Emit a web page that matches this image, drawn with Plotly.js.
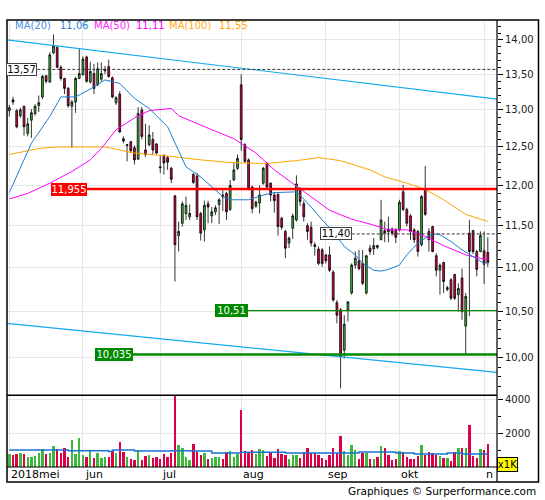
<!DOCTYPE html>
<html>
<head>
<meta charset="utf-8">
<script src="https://cdn.plot.ly/plotly-3.0.1.min.js"></script>
<style>
  html, body { margin: 0; padding: 0; background: #fff; }
  #chart { width: 545px; height: 500px; }
</style>
</head>
<body>
<div id="chart"></div>
<script>
// daily quotes, one entry per trading day (4 mei 2018 .. 2 nov 2018)
var open = [12.99, 13.14, 12.99, 12.92, 13.05, 12.68, 12.86, 12.95, 13.06, 13.18,
    13.48, 13.39, 13.81, 13.89, 13.60, 13.44, 13.30, 13.05, 13.11, 13.44,
    13.49, 13.75, 13.39, 13.51, 13.35, 13.43, 13.55, 13.61, 13.45, 13.10,
    13.22, 12.61, 12.52, 12.57, 12.49, 12.34, 13.00, 12.46, 12.53, 12.60,
    12.54, 12.24, 12.39, 12.36, 12.22, 11.87, 11.38, 11.53, 11.65, 11.61,
    12.14, 12.12, 11.65, 11.45, 11.77, 11.62, 11.67, 11.76, 11.88, 11.90,
    11.70, 12.07, 12.22, 13.35, 12.53, 12.33, 11.98, 11.74, 11.78, 12.03,
    12.29, 12.03, 11.88, 11.89, 11.59, 11.43, 11.29, 11.47, 11.57, 11.95,
    11.77, 11.50, 11.48, 11.27, 11.22, 11.21, 11.15, 11.15, 10.95, 10.60,
    10.52, 10.08, 10.52, 10.71, 11.03, 11.08, 11.05, 10.71, 11.23, 11.22,
    11.26, 11.33, 11.44, 11.46, 11.46, 11.45, 11.45, 11.92, 11.70, 11.62,
    11.45, 11.43, 11.27, 11.96, 11.43, 11.49, 11.14, 10.97, 11.06, 10.75,
    10.86, 10.92, 10.69, 10.88, 10.34, 11.41, 11.44, 11.19, 11.19, 11.20,
    11.18];
var high = [13.07, 13.18, 13.01, 13.03, 13.06, 12.89, 13.01, 13.08, 13.20, 13.49,
    13.49, 13.82, 14.08, 13.91, 13.63, 13.45, 13.32, 13.14, 13.46, 13.88,
    13.76, 13.77, 13.68, 13.65, 13.67, 13.67, 13.62, 13.71, 13.47, 13.19,
    13.26, 12.64, 12.54, 12.58, 12.52, 13.04, 13.04, 12.81, 12.79, 12.70,
    12.55, 12.38, 12.40, 12.38, 12.24, 11.88, 11.55, 11.80, 11.86, 11.76,
    12.16, 12.16, 11.67, 11.81, 11.81, 11.73, 11.75, 11.84, 11.94, 11.92,
    12.07, 12.29, 12.40, 13.50, 12.55, 12.35, 12.00, 11.81, 12.00, 12.24,
    12.29, 12.04, 11.92, 11.90, 11.61, 11.45, 11.37, 11.65, 12.13, 11.98,
    11.81, 11.53, 11.55, 11.30, 11.25, 11.23, 11.16, 11.25, 10.97, 10.63,
    10.54, 10.46, 10.61, 11.05, 11.19, 11.21, 11.21, 11.15, 11.27, 11.35,
    11.27, 11.82, 11.55, 11.61, 11.48, 11.47, 11.82, 12.01, 11.72, 11.64,
    11.47, 11.45, 11.88, 12.25, 11.47, 11.50, 11.17, 11.05, 11.07, 10.79,
    10.88, 10.93, 10.82, 10.99, 10.71, 11.57, 11.45, 11.21, 11.43, 11.43,
    11.36];
var low = [12.91, 13.07, 12.75, 12.89, 12.65, 12.64, 12.62, 12.92, 12.97, 13.15,
    13.37, 13.38, 13.79, 13.59, 13.41, 13.22, 13.03, 12.49, 12.96, 13.43,
    13.49, 13.38, 13.37, 13.22, 13.33, 13.40, 13.50, 13.45, 13.16, 13.07,
    12.69, 12.55, 12.31, 12.42, 12.27, 12.33, 12.60, 12.37, 12.51, 12.40,
    12.40, 12.16, 12.14, 12.20, 12.03, 10.84, 11.19, 11.49, 11.57, 11.57,
    12.02, 11.57, 11.32, 11.31, 11.53, 11.53, 11.63, 11.52, 11.68, 11.57,
    11.68, 12.06, 12.20, 12.45, 12.29, 11.94, 11.65, 11.72, 11.65, 12.01,
    11.96, 11.80, 11.66, 11.38, 11.45, 11.11, 11.23, 11.34, 11.55, 11.74,
    11.55, 11.33, 11.25, 11.14, 11.03, 11.01, 11.05, 10.95, 10.61, 10.37,
    9.68, 9.99, 10.39, 10.69, 10.99, 10.97, 10.80, 10.69, 11.15, 11.15,
    11.22, 11.33, 11.30, 11.30, 11.38, 11.29, 11.43, 11.68, 11.49, 11.33,
    11.29, 11.13, 11.25, 11.62, 11.19, 11.18, 10.90, 10.69, 10.71, 10.73,
    10.63, 10.63, 10.50, 10.41, 10.03, 10.45, 11.16, 10.90, 11.18, 10.81,
    11.01];
var close = [13.03, 13.11, 12.77, 13.00, 12.77, 12.81, 12.96, 13.05, 13.10, 13.47,
    13.40, 13.78, 13.91, 13.60, 13.44, 13.30, 13.06, 13.11, 13.44, 13.51,
    13.72, 13.40, 13.54, 13.30, 13.58, 13.51, 13.57, 13.47, 13.18, 13.17,
    12.70, 12.58, 12.53, 12.45, 12.33, 12.95, 12.64, 12.40, 12.66, 12.46,
    12.42, 12.23, 12.29, 12.30, 12.08, 11.27, 11.43, 11.77, 11.75, 11.65,
    12.04, 11.61, 11.41, 11.75, 11.73, 11.67, 11.72, 11.82, 11.86, 11.67,
    12.00, 12.20, 12.35, 12.60, 12.31, 11.96, 11.71, 11.79, 11.88, 12.22,
    11.98, 11.88, 11.81, 11.49, 11.48, 11.23, 11.35, 11.62, 12.02, 11.80,
    11.61, 11.43, 11.29, 11.25, 11.05, 11.05, 11.08, 10.97, 10.63, 10.46,
    10.01, 10.36, 10.61, 11.03, 11.11, 10.99, 10.82, 11.14, 11.19, 11.26,
    11.24, 11.57, 11.41, 11.43, 11.41, 11.36, 11.79, 11.70, 11.53, 11.43,
    11.33, 11.19, 11.86, 11.64, 11.33, 11.19, 10.97, 11.03, 10.84, 10.77,
    10.65, 10.65, 10.76, 10.50, 10.67, 11.19, 11.19, 10.98, 11.38, 11.04,
    11.06];
// volume, in thousands of shares
var volume = [784, 725, 784, 843, 784, 608, 608, 666, 843, 1078,
    784, 843, 1254, 1078, 843, 1137, 608, 1607, 784, 1725,
    725, 608, 960, 549, 843, 549, 608, 608, 960, 843,
    1490, 902, 608, 490, 431, 1019, 431, 666, 725, 549,
    608, 490, 784, 608, 843, 4400, 1313, 1137, 608, 431,
    1372, 902, 725, 843, 490, 549, 608, 608, 490, 902,
    960, 608, 784, 3371, 960, 902, 1019, 784, 1078, 1019,
    666, 902, 549, 1078, 784, 725, 490, 725, 725, 549,
    902, 1137, 843, 843, 725, 549, 431, 725, 1137, 843,
    1842, 960, 725, 1313, 1019, 490, 843, 843, 490, 490,
    608, 1254, 1137, 725, 431, 490, 960, 902, 608, 490,
    490, 666, 1313, 725, 902, 843, 725, 666, 549, 549,
    372, 902, 1137, 1137, 1137, 2489, 666, 549, 1078, 1019,
    1372];

var monthIdx = [0, 20, 41, 63, 86, 106, 129];
var monthLabels = ['2018mei', 'jun', 'jul', 'aug', 'sep', 'okt', 'n'];

var ma20Idx = [0, 6, 11, 14, 18, 23, 26, 30, 34, 38, 43, 46, 48, 52, 54, 58, 60, 65, 69, 72, 78,
    79, 82, 85, 88, 91, 94, 96, 99, 101, 103, 106, 108, 111, 114, 116, 117, 120, 123, 126, 129, 130];
var ma20 = [11.91, 12.55, 12.91, 13.18, 13.18, 13.32, 13.42, 13.37, 13.16, 13.02, 12.77, 12.46, 12.24,
    12.11, 12.03, 11.86, 11.82, 11.82, 11.88, 11.91, 11.92, 11.88, 11.73, 11.57, 11.43, 11.25, 11.15,
    11.05, 10.97, 10.96, 10.98, 11.03, 11.15, 11.29, 11.38, 11.40, 11.39, 11.31, 11.21, 11.13, 11.05, 11.06];
var ma50Idx = [0, 5, 11, 17, 22, 25, 29, 34, 38, 44, 46, 51, 56, 61, 67, 72, 77, 82, 87, 93, 98,
    103, 108, 113, 118, 124, 129, 130];
var ma50 = [11.83, 11.90, 12.03, 12.18, 12.33, 12.48, 12.73, 12.89, 12.99, 13.02, 12.92, 12.81, 12.71,
    12.61, 12.42, 12.20, 12.03, 11.86, 11.69, 11.58, 11.52, 11.45, 11.45, 11.37, 11.26, 11.15, 11.10, 11.11];
var ma100Idx = [0, 8, 13, 26, 34, 43, 52, 59, 69, 78, 84, 90, 98, 102, 108, 113, 118, 124, 128, 130];
var ma100 = [12.40, 12.48, 12.50, 12.50, 12.42, 12.38, 12.33, 12.30, 12.28, 12.32, 12.36, 12.32, 12.20,
    12.11, 12.03, 11.95, 11.82, 11.64, 11.58, 11.55];
var volAvgIdx = [0, 16, 27, 28, 34, 44, 49, 55, 63, 75, 95, 105, 110, 119, 123, 130];
var volAvg = [1000, 960, 921, 1000, 941, 960, 941, 823, 870, 823, 882, 823, 764, 823, 764, 764];

var legendText = ['MA(20)', '11,06', 'MA(50)', '11,11', 'MA(100)', '11,55'];

// trend channel, value at left and right edge of the chart
var upperTrend = [14.00, 13.15];
var lowerTrend = [10.37, 9.845];

var priceTicks = [10, 10.5, 11, 11.5, 12, 12.5, 13, 13.5, 14];
var priceTickText = ['10,00', '10,50', '11,00', '11,50', '12,00', '12,50', '13,00', '13,50', '14,00'];
var volTicks = [2000, 4000];
var volTickText = ['2000', '4000'];

var UP = '#3cb83c', DOWN = '#dc0046';

// pixel helpers for the plot area (l=7, t=20, w=490, h=447)
function px(x) { return (x - 7) / 490; }
function py(y) { return (467 - y) / 447; }

var idx = [];
var volColors = [];
for (var i = 0; i < close.length; i++) {
    idx.push(i);
    volColors.push(close[i] >= open[i] ? UP : DOWN);
}

var priceMinor = [];
for (var m = 97; m <= 142; m++) {
    if (m % 5 !== 0) priceMinor.push(m / 10);
}

var traces = [
    {
        type: 'candlestick', x: idx, open: open, high: high, low: low, close: close,
        xaxis: 'x2', yaxis: 'y',
        increasing: {line: {color: '#000', width: 0.8}, fillcolor: UP},
        decreasing: {line: {color: '#000', width: 0.8}, fillcolor: DOWN},
        whiskerwidth: 0, hoverinfo: 'skip', showlegend: false
    },
    {type: 'scatter', mode: 'lines', x: ma100Idx, y: ma100, xaxis: 'x2', yaxis: 'y',
        line: {color: '#ffa500', width: 1}, hoverinfo: 'skip'},
    {type: 'scatter', mode: 'lines', x: ma50Idx, y: ma50, xaxis: 'x2', yaxis: 'y',
        line: {color: '#ff00ff', width: 1}, hoverinfo: 'skip'},
    {type: 'scatter', mode: 'lines', x: ma20Idx, y: ma20, xaxis: 'x2', yaxis: 'y',
        line: {color: '#1a7fd4', width: 1}, hoverinfo: 'skip'},
    {type: 'bar', x: idx, y: volume, width: 0.65, xaxis: 'x', yaxis: 'y2',
        marker: {color: volColors, line: {width: 0}}, hoverinfo: 'skip'},
    {type: 'scatter', mode: 'lines', x: volAvgIdx, y: volAvg, xaxis: 'x', yaxis: 'y2',
        line: {color: '#1a73d0', width: 1.5, shape: 'hv'}, hoverinfo: 'skip'}
];

function level(val, x0, color, width, dash) {
    return {type: 'line', xref: 'paper', yref: 'y', x0: px(x0), x1: 1, y0: val, y1: val,
        line: {color: color, width: width, dash: dash || 'solid'}, layer: 'above'};
}

var shapes = [
    {type: 'line', xref: 'paper', yref: 'y', x0: 0, x1: 1, y0: upperTrend[0], y1: upperTrend[1],
        line: {color: '#14aaee', width: 1.2}},
    {type: 'line', xref: 'paper', yref: 'y', x0: 0, x1: 1, y0: lowerTrend[0], y1: lowerTrend[1],
        line: {color: '#14aaee', width: 1.2}},
    level(13.57, 37.3, '#333', 1, '3px,2px'),
    level(11.40, 351.7, '#333', 1, '3px,2px'),
    level(11.955, 86.7, '#ff0000', 2.5),
    level(10.51, 248, '#008a00', 1.2),
    level(10.035, 133, '#008a00', 2.5),
    // frame
    {type: 'rect', xref: 'paper', yref: 'paper', x0: 0, x1: px(538.5), y0: py(482), y1: 1,
        line: {color: '#000', width: 1.5}},
    {type: 'line', xref: 'paper', yref: 'paper', x0: 1, x1: 1, y0: py(482), y1: 1,
        line: {color: '#000', width: 1.2}},
    {type: 'line', xref: 'paper', yref: 'paper', x0: 0, x1: 1, y0: py(395.3), y1: py(395.3),
        line: {color: '#000', width: 1.5}},
    {type: 'line', xref: 'paper', yref: 'paper', x0: 0, x1: 1, y0: 0, y1: 0,
        line: {color: '#000', width: 1.2}}
];

var annotations = [];
var legendX = [13, 58, 92, 134, 167, 217];
var legendColors = ['#4b8fe0', '#2a7fd8', '#ff22ff', '#ff00ff', '#ffaa22', '#ffa500'];
for (var k = 0; k < legendText.length; k++) {
    annotations.push({xref: 'paper', yref: 'paper', x: px(legendX[k]), y: py(26),
        xanchor: 'left', yanchor: 'middle', showarrow: false, text: legendText[k],
        font: {size: 10, color: legendColors[k]}});
}

function tag(text, val, xRight, w, bg, border, color) {
    return {xref: 'paper', yref: 'y', x: px(xRight), y: Math.log10(val), xanchor: 'right',
        yanchor: 'middle', showarrow: false, text: text, width: w, height: 11,
        bgcolor: bg, bordercolor: border, borderwidth: 1, borderpad: 0,
        font: {size: 10, color: color}};
}
annotations.push(tag('13,57', 13.57, 37.3, 29, '#fff', '#444', '#000'));
annotations.push(tag('11,955', 11.955, 86.7, 34, '#ff0000', '#ff0000', '#fff'));
annotations.push(tag('11,40', 11.40, 351.7, 30, '#fff', '#444', '#000'));
annotations.push(tag('10,51', 10.51, 248, 31, '#008a00', '#008a00', '#fff'));
annotations.push(tag('10,035', 10.035, 133, 36, '#008a00', '#008a00', '#fff'));

for (var j = 0; j < monthIdx.length; j++) {
    annotations.push({xref: 'x', yref: 'paper', x: monthIdx[j], y: py(474.5),
        xanchor: 'left', yanchor: 'middle', showarrow: false, text: monthLabels[j],
        font: {size: 11, color: '#000'}});
}

annotations.push({xref: 'paper', yref: 'paper', x: px(497.5), y: py(464.2), xanchor: 'left',
    yanchor: 'middle', showarrow: false, text: 'x1K', width: 19, height: 13,
    bgcolor: '#ffff00', bordercolor: '#000', borderwidth: 1, borderpad: 0,
    font: {size: 10, color: '#000'}});
annotations.push({xref: 'paper', yref: 'paper', x: px(538), y: py(491), xanchor: 'right',
    yanchor: 'middle', showarrow: false, text: 'Graphiques © Surperformance.com',
    font: {size: 10.5, color: '#000'}});

var grid = '#e6e6e6';
var layout = {
    width: 545, height: 500,
    margin: {l: 7, r: 48, t: 20, b: 33, pad: 0},
    paper_bgcolor: '#fff', plot_bgcolor: '#fff',
    font: {family: 'DejaVu Sans, Verdana, sans-serif', size: 10, color: '#222'},
    showlegend: false,
    boxgap: 0.3,
    bargap: 0,
    xaxis: {anchor: 'y2', range: [-0.63, 132.5], tickmode: 'array', tickvals: monthIdx,
        showticklabels: false, ticks: '', showgrid: true, gridcolor: grid, zeroline: false,
        showline: false, rangeslider: {visible: false}, fixedrange: true},
    xaxis2: {anchor: 'y', matches: 'x', tickmode: 'array', tickvals: monthIdx,
        showticklabels: false, ticks: '', showgrid: true, gridcolor: grid, zeroline: false,
        showline: false, rangeslider: {visible: false}, fixedrange: true},
    yaxis: {type: 'log', domain: [py(395.3), 1], range: [0.9827, 1.1553], side: 'right',
        anchor: 'x2', tickmode: 'array', tickvals: priceTicks, ticktext: priceTickText,
        ticks: 'outside', ticklen: 5, tickcolor: '#000', showgrid: true, gridcolor: grid,
        zeroline: false, showline: false, fixedrange: true,
        minor: {tickmode: 'array', tickvals: priceMinor, ticks: 'outside', ticklen: 3,
            tickcolor: '#000', showgrid: false}},
    yaxis2: {domain: [0, py(395.3)], range: [0, 4240], side: 'right', anchor: 'x',
        tickmode: 'array', tickvals: volTicks, ticktext: volTickText,
        ticks: 'outside', ticklen: 5, tickcolor: '#000', showgrid: true, gridcolor: grid,
        zeroline: false, showline: false, fixedrange: true,
        minor: {tickmode: 'array', tickvals: [1000, 3000], ticks: 'outside', ticklen: 3,
            tickcolor: '#000', showgrid: false}},
    shapes: shapes,
    annotations: annotations
};

Plotly.newPlot('chart', traces, layout, {displayModeBar: false, staticPlot: true});
</script>
</body>
</html>
